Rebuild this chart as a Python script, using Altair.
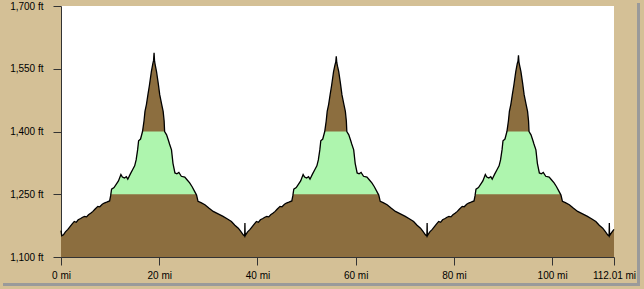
import altair as alt
import pandas as pd

# Distance along route (miles) and elevation (ft), read from the profile
miles = [
    0.0, 0.15, 0.5, 0.9, 1.4, 1.8, 2.2, 2.7, 3.1, 3.5, 4.0, 4.4, 4.8, 5.2, 5.6, 6.1, 6.5, 6.9,
    7.5, 7.9, 8.4, 8.8, 9.3, 9.9, 10.1, 10.3, 10.8, 11.2, 11.7, 12.2, 12.5, 12.9, 13.3, 13.6,
    14.1, 14.6, 15.0, 15.3, 15.6, 15.8, 16.2, 16.6, 16.9, 17.1, 17.4, 17.7, 18.0, 18.4, 18.7,
    18.85, 18.95, 19.05, 19.2, 19.45, 19.8, 20.1, 20.5, 20.8, 21.0, 21.1, 21.5, 21.9, 22.1,
    22.5, 22.8, 23.2, 23.6, 24.0, 24.5, 25.2, 25.7, 26.2, 26.7, 27.2, 27.6, 27.9, 28.5, 29.3,
    30.1, 31.0, 32.0, 33.0, 33.9, 34.7, 35.4, 36.1, 36.6, 37.1, 37.4, 37.45, 37.5,
    37.6, 38.0, 38.5, 38.9, 39.3, 39.8, 40.2, 40.6, 41.1, 41.5, 41.9, 42.3, 42.7, 43.2, 43.6,
    44.0, 44.6, 45.0, 45.5, 45.9, 46.4, 47.0, 47.2, 47.4, 47.9, 48.3, 48.8, 49.3, 49.6, 50.0,
    50.4, 50.7, 51.2, 51.7, 52.1, 52.4, 52.7, 52.9, 53.3, 53.7, 54.0, 54.2, 54.5, 54.8, 55.1,
    55.5, 55.8, 55.95, 56.05, 56.15, 56.3, 56.55, 56.9, 57.2, 57.6, 57.9, 58.1, 58.2, 58.6,
    59.0, 59.2, 59.6, 59.9, 60.3, 60.7, 61.1, 61.6, 62.3, 62.8, 63.3, 63.8, 64.3, 64.7, 65.0,
    65.6, 66.4, 67.2, 68.1, 69.1, 70.1, 71.0, 71.8, 72.5, 73.2, 73.7, 74.2, 74.5, 74.55, 74.6,
    74.7, 75.1, 75.6, 76.0, 76.4, 76.9, 77.3, 77.7, 78.2, 78.6, 79.0, 79.4, 79.8, 80.3, 80.7,
    81.1, 81.7, 82.1, 82.6, 83.0, 83.5, 84.1, 84.3, 84.5, 85.0, 85.4, 85.9, 86.4, 86.7, 87.1,
    87.5, 87.8, 88.3, 88.8, 89.2, 89.5, 89.8, 90.0, 90.4, 90.8, 91.1, 91.3, 91.6, 91.9, 92.2,
    92.6, 92.9, 93.05, 93.15, 93.25, 93.4, 93.65, 94.0, 94.3, 94.7, 95.0, 95.2, 95.3, 95.7,
    96.1, 96.3, 96.7, 97.0, 97.4, 97.8, 98.2, 98.7, 99.4, 99.9, 100.4, 100.9, 101.4, 101.8,
    102.1, 102.7, 103.5, 104.3, 105.2, 106.2, 107.2, 108.1, 108.9, 109.6, 110.3, 110.8, 111.3,
    111.6, 111.65, 111.7, 112.1, 112.6,
]
elevation = [
    1163, 1151, 1153, 1160, 1166, 1172, 1178, 1185, 1183, 1189, 1192, 1195, 1197, 1196, 1201, 1205, 1209, 1214,
    1221, 1220, 1226, 1229, 1231, 1234, 1246, 1262, 1266, 1273, 1282, 1297, 1291, 1289, 1292, 1286,
    1298, 1309, 1318, 1332, 1356, 1378, 1382, 1400, 1425, 1448, 1465, 1488, 1510, 1543, 1562,
    1570, 1588, 1568, 1558, 1543, 1515, 1488, 1465, 1448, 1425, 1400, 1392, 1378, 1370,
    1356, 1324, 1301, 1299, 1302, 1293, 1291, 1284, 1277, 1268, 1257, 1248, 1233, 1230, 1225,
    1217, 1209, 1203, 1197, 1191, 1185, 1176, 1169, 1161, 1153, 1150, 1181, 1151,
    1153, 1160, 1166, 1172, 1178, 1185, 1183, 1189, 1192, 1195, 1197, 1196, 1201, 1205, 1209,
    1214, 1221, 1220, 1226, 1229, 1231, 1234, 1246, 1262, 1266, 1273, 1282, 1297, 1291, 1289,
    1292, 1286, 1298, 1309, 1318, 1332, 1356, 1378, 1382, 1400, 1425, 1448, 1465, 1488, 1510,
    1543, 1560, 1566, 1580, 1565, 1556, 1543, 1515, 1488, 1465, 1448, 1425, 1400, 1392,
    1378, 1370, 1356, 1324, 1301, 1299, 1302, 1293, 1291, 1284, 1277, 1268, 1257, 1248, 1233,
    1230, 1225, 1217, 1209, 1203, 1197, 1191, 1185, 1176, 1169, 1161, 1153, 1150, 1181, 1151,
    1153, 1160, 1166, 1172, 1178, 1185, 1183, 1189, 1192, 1195, 1197, 1196, 1201, 1205, 1209,
    1214, 1221, 1220, 1226, 1229, 1231, 1234, 1246, 1262, 1266, 1273, 1282, 1297, 1291, 1289,
    1292, 1286, 1298, 1309, 1318, 1332, 1356, 1378, 1382, 1400, 1425, 1448, 1465, 1488, 1510,
    1543, 1562, 1568, 1582, 1566, 1557, 1543, 1515, 1488, 1465, 1448, 1425, 1400, 1392,
    1378, 1370, 1356, 1324, 1301, 1299, 1302, 1293, 1291, 1284, 1277, 1268, 1257, 1248,
    1233, 1230, 1225, 1217, 1209, 1203, 1197, 1191, 1185, 1176, 1169, 1161, 1153,
    1150, 1181, 1151, 1158, 1166,
]

y_ticks = [1100, 1250, 1400, 1550, 1700]
x_ticks = [0, 20, 40, 60, 80, 100, 112.6]
x_end_label = "112.01 mi"
band_low, band_high = 1250, 1400

df = pd.DataFrame({"mi": miles, "ft": elevation})

BG = "#D4C096"
BROWN = "#8C6E3F"
GREEN = "#AEF5AE"

xscale = alt.Scale(domain=[0, 112.6], nice=False, zero=False)
yscale = alt.Scale(domain=[1100, 1700], nice=False, zero=False)

x_axis = alt.Axis(
    values=x_ticks, title=None, grid=False,
    labelExpr=f"datum.value > 112 ? '{x_end_label}' : datum.value + ' mi'",
    tickSize=8, labelPadding=5, labelOverlap=False, labelFlush=False,
)
y_axis = alt.Axis(
    values=y_ticks, title=None, grid=False,
    labelExpr="format(datum.value, ',') + ' ft'",
    tickSize=8, labelPadding=10, labelOverlap=False, labelFlush=False,
)

x_enc = alt.X("mi:Q", scale=xscale, axis=x_axis, title=None)
y_enc = alt.Y("ft:Q", scale=yscale, axis=y_axis, title=None)

base = alt.Chart(df)

brown = base.mark_area(color=BROWN, opacity=1).encode(
    x=x_enc, y=y_enc, y2=alt.datum(1100)
)

green = base.transform_calculate(
    g=f"clamp(datum.ft, {band_low}, {band_high})"
).mark_area(color=GREEN, opacity=1).encode(
    x=x_enc,
    y=alt.Y("g:Q", scale=yscale, axis=y_axis, title=None),
    y2=alt.datum(band_low),
)

line = base.mark_line(color="black", strokeWidth=1.3).encode(
    x=x_enc, y=y_enc,
)

shadow_df = pd.DataFrame({"k": [0]})
shadow_r = alt.Chart(shadow_df).mark_rect(color="#9a9a9a").encode(
    x=alt.value(576), x2=alt.value(579), y=alt.value(-3), y2=alt.value(280)
)
shadow_b = alt.Chart(shadow_df).mark_rect(color="#9a9a9a").encode(
    x=alt.value(-58), x2=alt.value(579), y=alt.value(277), y2=alt.value(280)
)

chart = alt.layer(brown, green, line, shadow_r, shadow_b).properties(
    width=553, height=251,
    padding={"left": 61, "top": 6, "right": 30, "bottom": 32},
    autosize=alt.AutoSizeParams(type="none"),
    background=BG,
).configure_view(
    stroke=None, fill="white"
).configure_axis(
    domainColor="#333333", tickColor="#333333", domainWidth=1, tickWidth=1,
    labelFont="Liberation Sans", labelFontSize=10, labelColor="black",
)

chart.save("out.html", embed_options={"renderer": "svg", "actions": False})
